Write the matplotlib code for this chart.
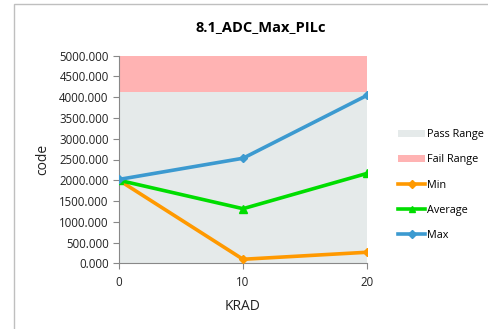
import matplotlib
matplotlib.use("Agg")
import matplotlib.pyplot as plt
from matplotlib.patches import Rectangle, Patch
from matplotlib.lines import Line2D

plt.rcParams['font.family'] = ['Open Sans', 'DejaVu Sans']

krad = [0, 10, 20]
min_vals = [2000, 97, 266]
avg_vals = [2000, 1315, 2165]
max_vals = [2020, 2530, 4045]
pass_limit = 4130
fail_limit = 5000
yticks = [0, 500, 1000, 1500, 2000, 2500, 3000, 3500, 4000, 4500, 5000]

fig = plt.figure(figsize=(4.88, 3.29), dpi=100)
fig.patches.append(Rectangle((14/488, -0.1), 1.2, 1 - 4/329 + 0.1, transform=fig.transFigure,
                             fill=False, edgecolor='#bfbfbf', linewidth=1.0))
ax = fig.add_axes([119/488, 1 - 263.3/329, (367-119)/488, (263.3-55.7)/329])

ax.fill_between([krad[0], krad[-1]], 0, pass_limit, color='#e5eaea', linewidth=0, zorder=1)
ax.fill_between([krad[0], krad[-1]], pass_limit, fail_limit, color='#ffb3b3', linewidth=0, zorder=1)

ax.plot(krad, min_vals, color='#ff9900', lw=2.6, marker='D', ms=4.5, zorder=3)
ax.plot(krad, avg_vals, color='#00dd00', lw=2.6, marker='^', ms=6, zorder=3)
ax.plot(krad, max_vals, color='#3c9ad0', lw=2.6, marker='D', ms=4.5, zorder=3)

ax.set_xlim(0, 20)
ax.set_ylim(0, 5000)
ax.set_xticks(krad)
ax.set_yticks(yticks)
ax.set_yticklabels([f"{v:.3f}" for v in yticks])
for s in ['top', 'right']:
    ax.spines[s].set_visible(False)
for s in ['left', 'bottom']:
    ax.spines[s].set_color('#888888')
ax.tick_params(axis='both', colors='#888888', labelcolor='#222222', labelsize=8.3, length=4)
ax.tick_params(axis='x', pad=5)
ax.set_xlabel('KRAD', fontsize=10, color='#222222', labelpad=7)
ax.set_ylabel('code', fontsize=10, color='#222222', labelpad=6)
fig.text(0.535, 1 - 27/329, '8.1_ADC_Max_PILc', ha='center', va='center', fontsize=10.5, fontweight='bold')

handles = [
    Patch(facecolor='#e5eaea', edgecolor='none', label='Pass Range'),
    Patch(facecolor='#ffb3b3', edgecolor='none', label='Fail Range'),
    Line2D([], [], color='#ff9900', lw=2.6, marker='D', ms=4, label='Min'),
    Line2D([], [], color='#00dd00', lw=2.6, marker='^', ms=5, label='Average'),
    Line2D([], [], color='#3c9ad0', lw=2.6, marker='D', ms=4, label='Max'),
]
fig.legend(handles=handles, loc='center left', bbox_to_anchor=(394/488, 1 - 185/329),
           frameon=False, fontsize=7.8, handlelength=2.5, handletextpad=0.15,
           labelspacing=1.3, borderaxespad=0)

fig.savefig('out.png', dpi=100)
